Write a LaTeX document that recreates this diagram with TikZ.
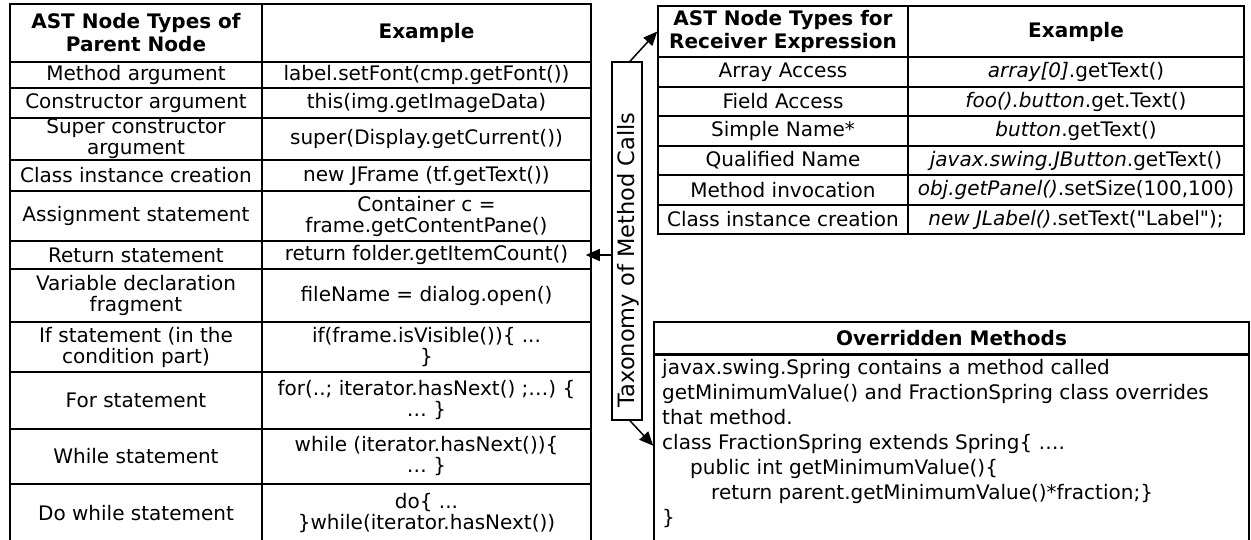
\documentclass[tikz,border=0pt]{standalone}
\usepackage{fontspec}
\setmainfont{DejaVu Sans}
\usetikzlibrary{arrows.meta}
% straight double quote, bypassing the TeX quote mapping
\newcommand\straightdq{\XeTeXglyph\XeTeXcharglyph"22\relax}
\begin{document}
\begin{tikzpicture}[x=1pt,y=-1pt,
  cell/.style={draw, line width=1.5pt, inner sep=0pt, align=center,
    font=\fontsize{20}{21}\selectfont},
  head/.style={cell, font=\fontsize{20}{23}\selectfont\bfseries},
  lname/.style={minimum width=252},
  lex/.style={minimum width=329},
  rname/.style={minimum width=250},
  rex/.style={minimum width=336},
  link/.style={line width=1.5pt, -{Triangle[length=14pt,width=12pt]}}]
\useasboundingbox (0,0) rectangle (1251,539);

% Parent node table: column of AST node types
\node[head, lname, minimum height=58] (pH) at (136,33) {AST Node Types of\\Parent Node};
\node[cell, lname, minimum height=26] (p1) at (136,75) {Method argument};
\node[cell, lname, minimum height=30] (p2) at (136,103) {Constructor argument};
\node[cell, lname, minimum height=42] (p3) at (136,139) {Super constructor\\argument};
\node[cell, lname, minimum height=31] (p4) at (136,175.5) {Class instance creation};
\node[cell, lname, minimum height=50] (p5) at (136,216) {Assignment statement};
\node[cell, lname, minimum height=28] (p6) at (136,255) {Return statement};
\node[cell, lname, minimum height=53] (p7) at (136,295.5) {Variable declaration\\fragment};
\node[cell, lname, minimum height=50] (p8) at (136,347) {If statement (in the\\condition part)};
\node[cell, lname, minimum height=57] (p9) at (136,400.5) {For statement};
\node[cell, lname, minimum height=55] (p10) at (136,456.5) {While statement};
\node[cell, lname, minimum height=58] (p11) at (136,513) {Do while statement};

% Parent node table: examples
\node[head, lex, minimum height=58] (eH) at (426.5,33) {Example};
\node[cell, lex, minimum height=26] (e1) at (426.5,75) {label.setFont(cmp.getFont())};
\node[cell, lex, minimum height=30] (e2) at (426.5,103) {this(img.getImageData)};
\node[cell, lex, minimum height=42] (e3) at (426.5,139) {super(Display.getCurrent())};
\node[cell, lex, minimum height=31] (e4) at (426.5,175.5) {new JFrame (tf.getText())};
\node[cell, lex, minimum height=50] (e5) at (426.5,216) {Container c =\\frame.getContentPane()};
\node[cell, lex, minimum height=28] (e6) at (426.5,255) {return folder.getItemCount()};
\node[cell, lex, minimum height=53] (e7) at (426.5,295.5) {fileName = dialog.open()};
\node[cell, lex, minimum height=50] (e8) at (426.5,347) {if(frame.isVisible())\{ ...\\\}};
\node[cell, lex, minimum height=57] (e9) at (426.5,400.5) {for(..; iterator.hasNext() ;…) \{\\… \}};
\node[cell, lex, minimum height=55] (e10) at (426.5,456.5) {while (iterator.hasNext())\{\\… \}};
\node[cell, lex, minimum height=58] (e11) at (426.5,513) {do\{ ...\\\}while(iterator.hasNext())};

% Receiver expression table
\node[head, rname, minimum height=51] (rH) at (783,31.5) {AST Node Types for\\Receiver Expression};
\node[cell, rname, minimum height=30] (r1) at (783,72) {Array Access};
\node[cell, rname, minimum height=29] (r2) at (783,101.5) {Field Access};
\node[cell, rname, minimum height=30] (r3) at (783,131) {Simple Name*};
\node[cell, rname, minimum height=29] (r4) at (783,160.5) {Qualified Name};
\node[cell, rname, minimum height=30] (r5) at (783,190) {Method invocation};
\node[cell, rname, minimum height=29] (r6) at (783,219.5) {Class instance creation};

\node[head, rex, minimum height=51] (xH) at (1076,31.5) {Example};
\node[cell, rex, minimum height=30] (x1) at (1076,72) {\textit{array[0]}.getText()};
\node[cell, rex, minimum height=29] (x2) at (1076,101.5) {\textit{foo().button}.get.Text()};
\node[cell, rex, minimum height=30] (x3) at (1076,131) {\textit{button}.getText()};
\node[cell, rex, minimum height=29] (x4) at (1076,160.5) {\textit{javax.swing.JButton}.getText()};
\node[cell, rex, minimum height=30] (x5) at (1076,190) {\textit{obj.getPanel()}.setSize(100,100)};
\node[cell, rex, minimum height=29] (x6) at (1076,219.5) {\textit{new JLabel()}.setText(\straightdq Label\straightdq);};

% Overridden methods box
\node[head, minimum width=595, minimum height=32] (oH) at (951.5,338) {Overridden Methods};
\node[draw, line width=1.5pt, minimum width=595, minimum height=190, anchor=north] (oB) at (951.5,354) {};
\node[anchor=north west, align=left, inner sep=0pt,
  font=\fontsize{20}{25}\selectfont] (oT) at (662,359)
  {javax.swing.Spring contains a method called\\
   getMinimumValue() and FractionSpring class overrides\\
   that method.\\
   class FractionSpring extends Spring\{ ….\\
   \hspace*{28pt}public int getMinimumValue()\{\\
   \hspace*{49pt}return parent.getMinimumValue()*fraction;\}\\
   \}};

% Central label box (rotated: east = top, west = bottom, north = left side)
\node[draw, line width=1.5pt, rotate=90, minimum width=358, minimum height=30,
  inner sep=0pt] (tax) at (627,241) {};
\node[rotate=90, inner sep=0pt, font=\fontsize{22.5}{24}\selectfont] (taxT) at (628,260) {Taxonomy of Method Calls};
\coordinate (retTip) at ([xshift=-6pt]e6.east);
\draw[link] (tax.north |- e6.east) -- (retTip);
\draw[link] ([xshift=3pt]tax.east) -- (rH.west);
\draw[link] ([xshift=3pt]tax.west) -- ([yshift=4pt]oB.west);
\end{tikzpicture}
\end{document}
